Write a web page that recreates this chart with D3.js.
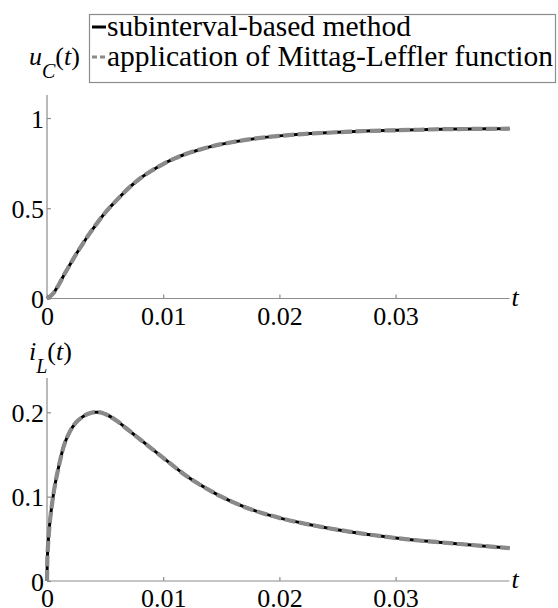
<!DOCTYPE html>
<html><head><meta charset="utf-8">
<script src="https://d3js.org/d3.v7.min.js"></script>
<style>
html,body{margin:0;padding:0;background:#fff;}
svg{display:block;}
</style></head>
<body><svg id="c" width="558" height="608"></svg>
<script>
// ---- data ----
const tU = [0,0.0005,0.001,0.0015,0.002,0.0025,0.003,0.0035,0.004,0.005,0.006,0.007,0.008,0.009,0.010,0.011,0.012,0.013,0.014,0.015,0.016,0.018,0.020,0.022,0.024,0.026,0.028,0.030,0.032,0.034,0.036,0.038,0.0398];
const uC = [0,0.025,0.075,0.135,0.19,0.245,0.295,0.345,0.39,0.475,0.545,0.61,0.665,0.708,0.745,0.776,0.802,0.822,0.84,0.855,0.867,0.887,0.901,0.911,0.918,0.924,0.929,0.932,0.935,0.938,0.939,0.940,0.941];
const tI = [0,0.00002,0.0001,0.0002,0.00046,0.0007,0.001,0.0014,0.002,0.0025,0.003,0.0035,0.004,0.0045,0.005,0.006,0.007,0.008,0.009,0.010,0.011,0.012,0.013,0.014,0.015,0.016,0.018,0.020,0.022,0.024,0.026,0.028,0.030,0.032,0.034,0.036,0.038,0.0398];
const iL = [0,0.02,0.045,0.063,0.094,0.115,0.135,0.158,0.178,0.188,0.194,0.198,0.2,0.2,0.198,0.19,0.179,0.168,0.157,0.146,0.135,0.1245,0.1155,0.1075,0.1,0.0935,0.0828,0.0748,0.0685,0.0632,0.0585,0.0545,0.051,0.048,0.0457,0.0433,0.041,0.039];
const xTicks = [0,0.01,0.02,0.03];
const xTickLabels = ["0","0.01","0.02","0.03"];
const uTicks = [0,0.5,1];
const uTickLabels = ["0","0.5","1"];
const iTicks = [0,0.1,0.2];
const iTickLabels = ["0","0.1","0.2"];
const seriesNames = ["subinterval-based method","application of Mittag-Leffler function"];

const svg = d3.select("#c");
const axisCol = "#8c8c8c";
const FONT = '"Liberation Serif", "Times New Roman", Times';
const x = d3.scaleLinear().domain([0,0.0398]).range([47,509.5]);

function panel(ts, vs, yDomMax, yRange, yTicks, yLabels, axisTop, labelMain, labelSub, labelY) {
  const y = d3.scaleLinear().domain([0,yDomMax]).range(yRange);
  const y0 = y(0);
  const g = svg.append("g");
  const xa = g.append("g").attr("transform",`translate(0,${y0})`)
    .call(d3.axisBottom(x).tickValues(xTicks).tickSize(-4).tickPadding(8)
      .tickFormat((d,i)=>xTickLabels[i]));
  xa.select(".domain").remove();
  xa.append("line").attr("x1",x(0)).attr("x2",x.range()[1]).attr("y1",0).attr("y2",0);
  const ya = g.append("g").attr("transform",`translate(${x(0)},0)`)
    .call(d3.axisLeft(y).tickValues(yTicks).tickSize(-4).tickPadding(3)
      .tickFormat((d,i)=>yLabels[i]));
  ya.select(".domain").remove();
  ya.append("line").attr("x1",0).attr("x2",0).attr("y1",y0).attr("y2",axisTop);
  [xa,ya].forEach(a=>{
    a.selectAll("line").attr("stroke",axisCol).attr("stroke-width",1.2);
    a.selectAll("text").style("font-family",FONT).attr("font-size",26).attr("fill","#000");
  });
  ya.selectAll(".tick text").attr("dy","0.35em");
  g.append("text").attr("x",x.range()[1]+2).attr("y",y0+7).attr("font-size",26)
    .style("font-family",FONT).attr("font-style","italic").text("t");
  const lab = g.append("text").attr("x",29).attr("y",labelY).attr("font-size",26)
    .style("font-family",FONT);
  lab.append("tspan").attr("font-style","italic").text(labelMain);
  lab.append("tspan").attr("font-style","italic").attr("font-size",20).attr("dy",13).text(labelSub);
  lab.append("tspan").attr("dy",-13).text("(");
  lab.append("tspan").attr("font-style","italic").text("t");
  lab.append("tspan").text(")");
  const data = ts.map((t,i)=>[t,vs[i]]);
  const line = d3.line().x(d=>x(d[0])).y(d=>y(d[1])).curve(d3.curveMonotoneX);
  g.append("path").datum(data).attr("d",line).attr("fill","none")
    .attr("stroke","#000").attr("stroke-width",3);
  g.append("path").datum(data).attr("d",line).attr("fill","none")
    .attr("stroke","#8a8a8a").attr("stroke-width",4.2).attr("stroke-dasharray","11,3.5");
}

panel(tU,uC,1,[298.5,118],uTicks,uTickLabels,95,"u","C",65);
panel(tI,iL,0.2,[581,412.3],iTicks,iTickLabels,378,"i","L",360);

const lg = svg.append("g");
lg.append("rect").attr("x",89.5).attr("y",14.5).attr("width",466).attr("height",68)
  .attr("fill","#fff").attr("stroke",axisCol).attr("stroke-width",1.2);
lg.append("line").attr("x1",92).attr("x2",106).attr("y1",27).attr("y2",27)
  .attr("stroke","#000").attr("stroke-width",3);
lg.append("line").attr("x1",92).attr("x2",106).attr("y1",57).attr("y2",57)
  .attr("stroke","#8a8a8a").attr("stroke-width",3).attr("stroke-dasharray","5,3");
lg.selectAll("text.lt").data(seriesNames).join("text").attr("class","lt")
  .attr("x",107).attr("y",(d,i)=>36+i*29.5).attr("font-size",29.5)
  .style("font-family",FONT).text(d=>d);
</script>
</body></html>
